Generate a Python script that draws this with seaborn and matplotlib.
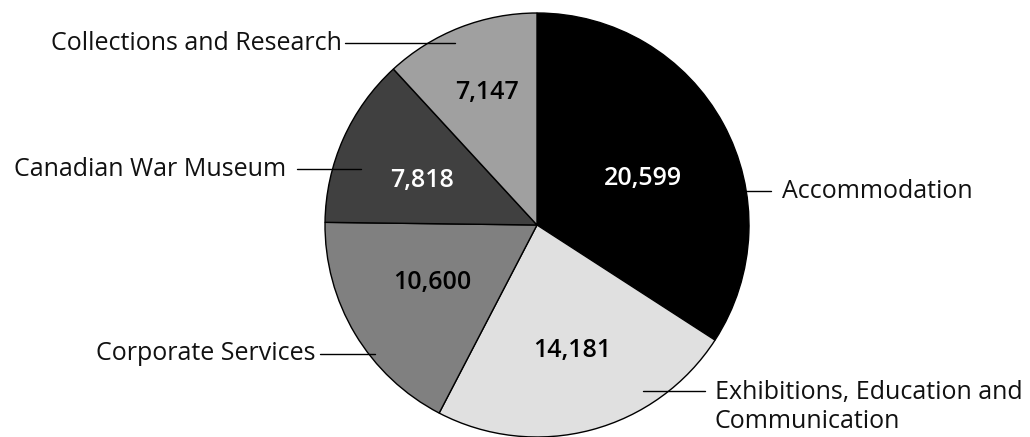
import matplotlib
matplotlib.use("Agg")
import matplotlib.pyplot as plt
import seaborn as sns

categories = ["Accommodation", "Exhibitions, Education and\nCommunication",
              "Corporate Services", "Canadian War Museum", "Collections and Research"]
values = [20599, 14181, 10600, 7818, 7147]
value_labels = ["20,599", "14,181", "10,600", "7,818", "7,147"]
colors = ["#000000", "#e0e0e0", "#808080", "#404040", "#a0a0a0"]
value_text_colors = ["white", "black", "black", "white", "black"]

# label placement (pixels relative to pie centre, y up)
value_pos = [(106, 47), (35, -125), (-105, -57), (-115, 44), (-50, 133)]
# leader lines: (x_start, x_end, y, text side, gap)
leader = [(208, 234, 34, "left", 11), (106, 168, -166, "left", 10),
          (-162, -217, -129, "right", 4), (-176, -240, 56, "right", 11),
          (-82, -192, 182, "right", 3)]

sns.set_theme(style="white")
plt.rcParams['font.family'] = ['Open Sans', 'DejaVu Sans']

W, H = 1030, 437
cx, cy, R = 537, 225, 212
fig = plt.figure(figsize=(W / 100, H / 100), dpi=100)
ax = fig.add_axes([0, 0, 1, 1])

ax.pie(values, colors=colors, startangle=90, counterclock=False, radius=R,
       wedgeprops=dict(edgecolor="black", linewidth=1.0), frame=True)
ax.set_xlim(-cx, W - cx)
ax.set_ylim(-(H - cy), cy)
ax.set_aspect("equal")
ax.axis("off")

fs = 18
for (x, y), lab, tc in zip(value_pos, value_labels, value_text_colors):
    ax.text(x, y, lab, ha="center", va="center", fontsize=fs, fontweight="semibold", color=tc)

for (x0, x1, y, side, g), cat in zip(leader, categories):
    ax.plot([x0, x1], [y, y], color="black", lw=1.0)
    gap = g if side == "left" else -g
    if "\n" in cat:
        ax.text(x1 + gap, y - 16, cat, ha=side, va="center", fontsize=fs, color="#111111",
                linespacing=1.2)
    else:
        ax.text(x1 + gap, y, cat, ha=side, va="center", fontsize=fs, color="#111111")

fig.savefig("out.png", dpi=100, facecolor="white")
